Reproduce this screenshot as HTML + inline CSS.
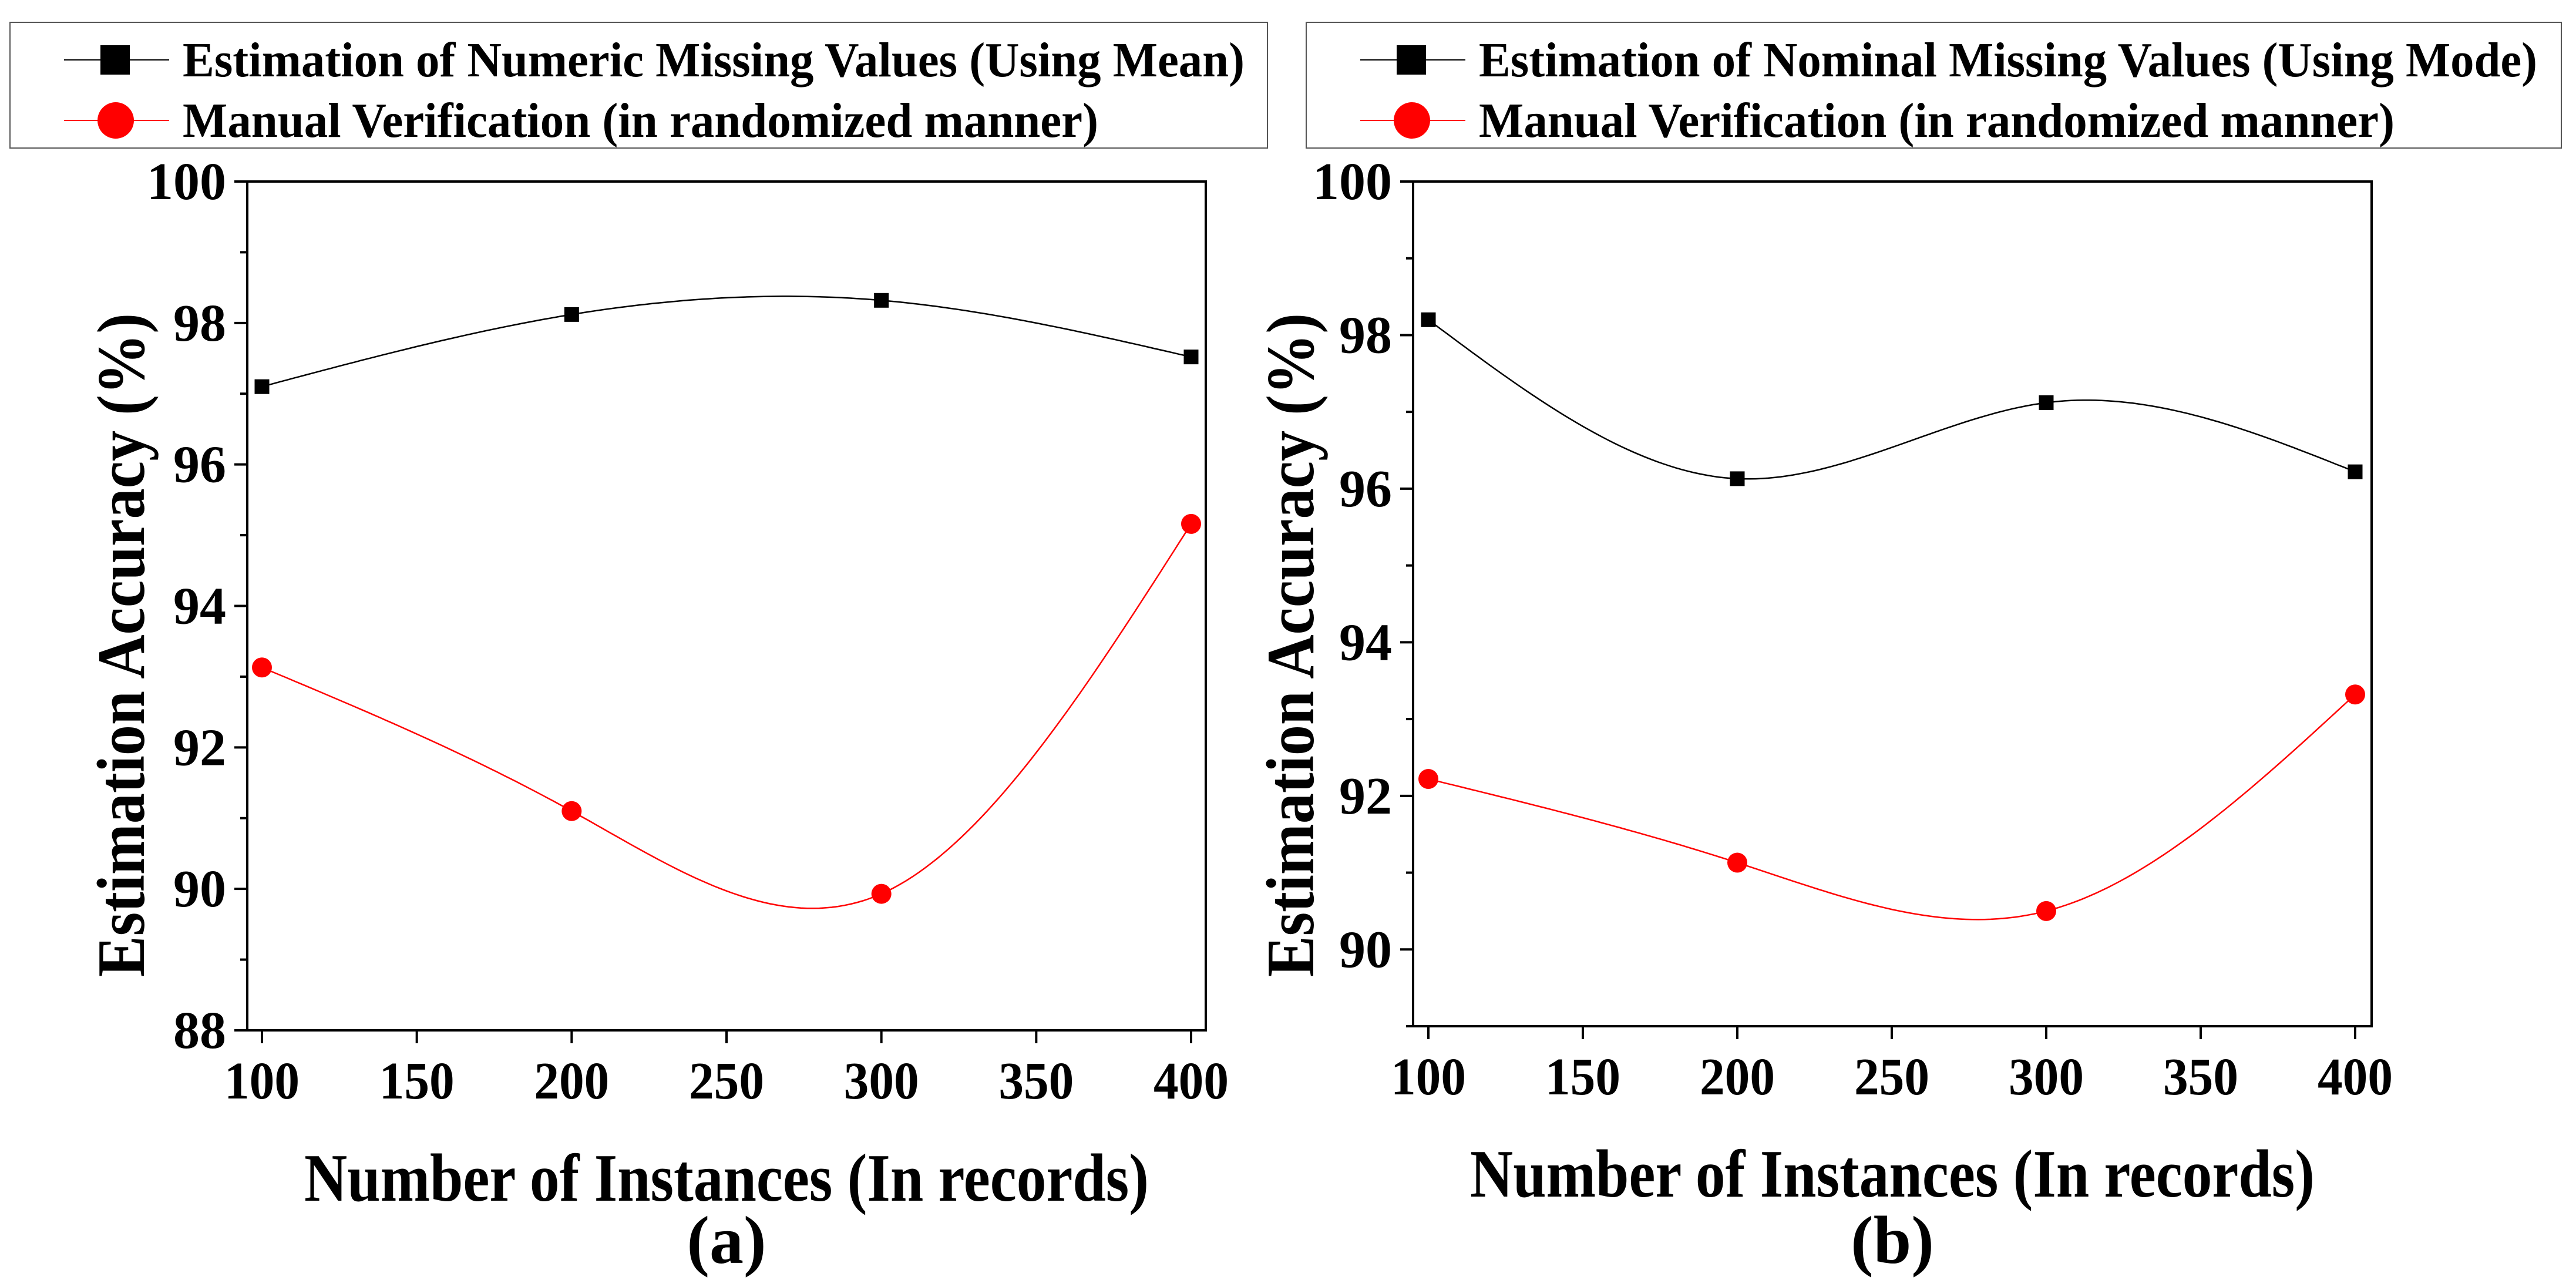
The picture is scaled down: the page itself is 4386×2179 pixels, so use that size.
<!DOCTYPE html>
<html><head><meta charset="utf-8"><style>
html,body{margin:0;padding:0;background:#fff;}
svg{display:block;}
text{font-family:"Liberation Serif","Times New Roman",serif;font-weight:bold;}
</style></head><body>
<svg id="chart" width="4386" height="2179" viewBox="0 0 4386 2179"></svg>
<script>
const xCats = [100, 200, 300, 400];
const xTicks = [100, 150, 200, 250, 300, 350, 400];
const aMean = [97.1, 98.12, 98.32, 97.52];
const aManual = [93.13, 91.1, 89.93, 95.16];
const bMode = [98.2, 96.13, 97.12, 96.22];
const bManual = [92.22, 91.13, 90.5, 93.32];
const aYTicks = [88, 90, 92, 94, 96, 98, 100];
const bYTicks = [90, 92, 94, 96, 98, 100];
const aLegend = ["Estimation of Numeric Missing Values (Using Mean)", "Manual Verification (in randomized manner)"];
const bLegend = ["Estimation of Nominal Missing Values (Using Mode)", "Manual Verification (in randomized manner)"];

const NS = "http://www.w3.org/2000/svg";
const svg = document.getElementById('chart');
function mk(tag, attrs, parent) {
  const e = document.createElementNS(NS, tag);
  for (const k in attrs) e.setAttribute(k, attrs[k]);
  (parent || svg).appendChild(e);
  return e;
}
function txt(attrs, parent, s) {
  attrs['font-family'] = 'Liberation Serif, serif';
  attrs['font-weight'] = 'bold';
  const t = mk('text', attrs, parent);
  t.textContent = s;
  return t;
}
function spline(xs, ys) {
  const n = xs.length, h = [], al = [], l = [1], mu = [0], z = [0], c = new Array(n).fill(0), b = [], d = [];
  for (let i = 0; i < n - 1; i++) h.push(xs[i + 1] - xs[i]);
  for (let i = 1; i < n - 1; i++) al[i] = 3 / h[i] * (ys[i + 1] - ys[i]) - 3 / h[i - 1] * (ys[i] - ys[i - 1]);
  for (let i = 1; i < n - 1; i++) { l[i] = 2 * (xs[i + 1] - xs[i - 1]) - h[i - 1] * mu[i - 1]; mu[i] = h[i] / l[i]; z[i] = (al[i] - h[i - 1] * z[i - 1]) / l[i]; }
  for (let j = n - 2; j >= 0; j--) { c[j] = z[j] - mu[j] * c[j + 1]; b[j] = (ys[j + 1] - ys[j]) / h[j] - h[j] * (c[j + 1] + 2 * c[j]) / 3; d[j] = (c[j + 1] - c[j]) / (3 * h[j]); }
  return x => { let j = 0; while (j < n - 2 && x > xs[j + 1]) j++; const t = x - xs[j]; return ys[j] + b[j] * t + c[j] * t * t + d[j] * t * t * t; };
}
function panel(p) {
  const g = mk('g', {});
  
  
  const X = v => p.x0 + (v - 100) / 300 * (p.x1 - p.x0);
  const Y = v => p.yTop + (100 - v) / (100 - p.yMin) * (p.yBot - p.yTop);
  const lg = mk('g', {}, g);
  
  
  mk('rect', {x: p.lx0, y: 38, width: p.lx1 - p.lx0, height: 214, fill: '#fff', stroke: '#555', 'stroke-width': 2}, lg);
  const colors = ['#000', '#f00'];
  p.legend.forEach((t, i) => {
    const cy = 102 + i * 103;
    const e = mk('g', {}, lg);
    
    
    mk('line', {x1: p.lx0 + 92, x2: p.lx0 + 271, y1: cy, y2: cy, stroke: colors[i], 'stroke-width': 2}, e);
    if (i === 0) mk('rect', {x: p.lx0 + 154, y: cy - 25, width: 50, height: 50, fill: '#000'}, e);
    else mk('circle', {cx: p.lx0 + 180, cy: cy, r: 31, fill: '#f00'}, e);
    txt({x: p.lx0 + 294, y: cy + 28, 'font-size': 84, fill: '#000', textLength: p.legW[i], lengthAdjust: 'spacingAndGlyphs'}, e, t);
  });
  const fr = mk('rect', {x: p.fx0, y: p.yTop, width: p.fx1 - p.fx0, height: p.yBot - p.yTop, fill: 'none', stroke: '#000', 'stroke-width': 4}, g);
  
  
  for (let v = Math.ceil(p.yMin); v <= 100; v++) {
    const major = v % 2 === 0;
    mk('line', {x1: p.fx0 - (major ? 22 : 12), x2: p.fx0, y1: Y(v), y2: Y(v), stroke: '#000', 'stroke-width': 4}, g);
  }
  p.yTicks.forEach(v => {
    const t = txt({x: p.fx0 - 36, y: Y(v) + 30, 'font-size': 90, 'text-anchor': 'end'}, g, v);
    
    
  });
  xTicks.forEach(v => {
    mk('line', {x1: X(v), x2: X(v), y1: p.yBot, y2: p.yBot + 22, stroke: '#000', 'stroke-width': 4}, g);
    const t = txt({x: X(v), y: p.yBot + 116, 'font-size': 90, 'text-anchor': 'middle', textLength: 128, lengthAdjust: 'spacingAndGlyphs'}, g, v);
    
    
  });
  const xt = txt({x: (p.fx0 + p.fx1) / 2, y: p.yBot + 290, 'font-size': 116, 'text-anchor': 'middle', textLength: 1438, lengthAdjust: 'spacingAndGlyphs'}, g, 'Number of Instances (In records)');
  
  
  const cap = txt({x: (p.fx0 + p.fx1) / 2, y: 2150, 'font-size': 116, 'text-anchor': 'middle'}, g, p.cap);
  
  
  const ycx = p.ytx, ycy = 1098;
  const yt = txt({x: ycx, y: ycy + 40, 'font-size': 116, 'text-anchor': 'middle', transform: `rotate(-90 ${ycx} ${ycy})`, textLength: 1130, lengthAdjust: 'spacingAndGlyphs'}, g, 'Estimation Accuracy (%)');
  
  
  [[p.s1, '#000', 'square'], [p.s2, '#f00', 'circle']].forEach(([vals, col, shape], si) => {
    const f = spline(xCats, vals);
    let d = '';
    for (let x = 100; x <= 400; x += 2) d += (x === 100 ? 'M' : 'L') + X(x).toFixed(1) + ',' + Y(f(x)).toFixed(1);
    const path = mk('path', {d: d, fill: 'none', stroke: col, 'stroke-width': 2.5}, g);
    
    
    vals.forEach((v, i) => {
      let m;
      if (shape === 'square') m = mk('rect', {x: X(xCats[i]) - 12.5, y: Y(v) - 12.5, width: 25, height: 25, fill: col}, g);
      else m = mk('circle', {cx: X(xCats[i]), cy: Y(v), r: 17, fill: col}, g);
      
      
    });
  });
}
panel({name: 'panel-a', x0: 446, x1: 2028, fx0: 421, fx1: 2053, yTop: 309, yBot: 1754, yMin: 88, yTicks: aYTicks,
  lx0: 17, lx1: 2158, legend: aLegend, legW: [1808, 1559], s1: aMean, s2: aManual, cap: '(a)', ytx: 205});
panel({name: 'panel-b', x0: 2432, x1: 4010, fx0: 2406, fx1: 4038, yTop: 309, yBot: 1747, yMin: 89, yTicks: bYTicks,
  lx0: 2224, lx1: 4361, legend: bLegend, legW: [1802, 1559], s1: bMode, s2: bManual, cap: '(b)', ytx: 2196});
</script>
</body></html>
